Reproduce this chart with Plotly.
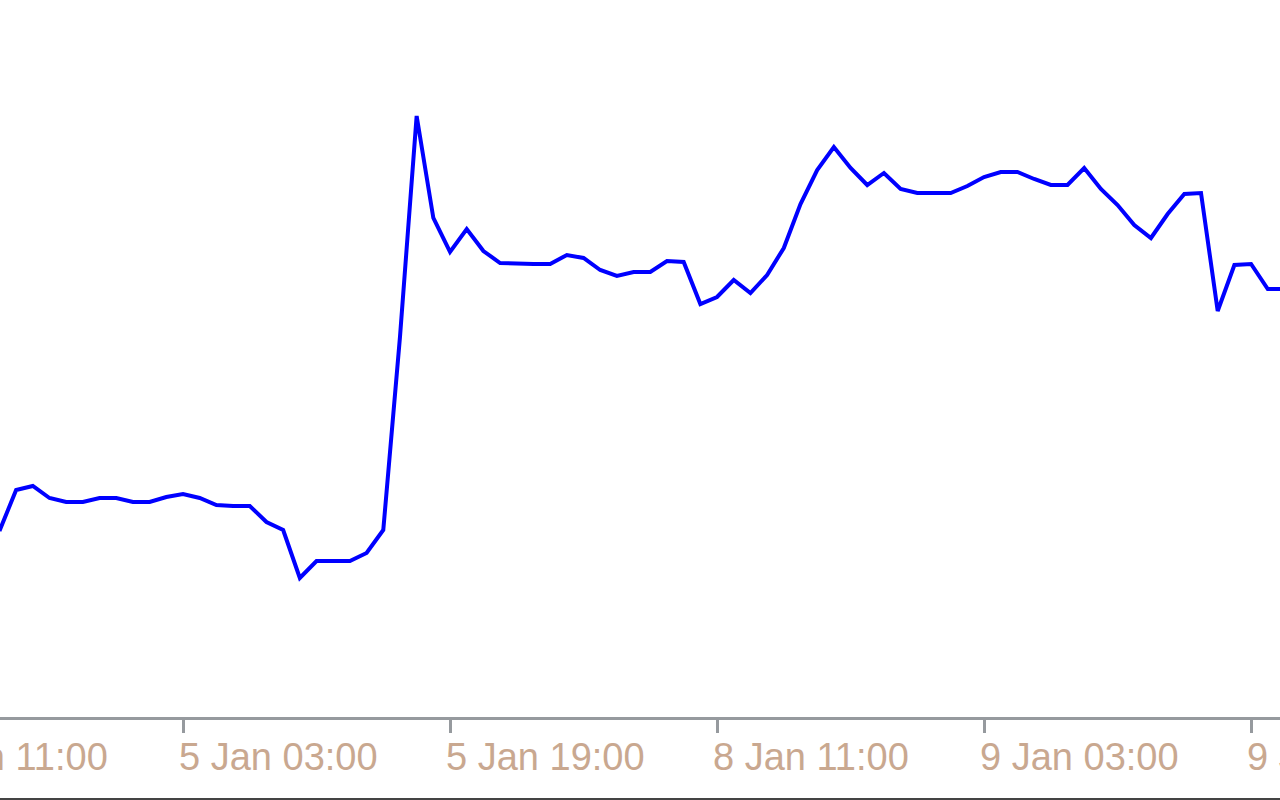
import pandas as pd
import plotly.graph_objects as go

# Hourly timestamps (weekend excluded), 4 Jan 16:00 .. 9 Jan 21:00
all_hours = pd.date_range("2018-01-04 16:00", "2018-01-09 21:00", freq="h")
times = [t for t in all_hours if t.dayofweek < 5]

# Line values (relative units, higher = up)
pixel_rows = [
    531, 490, 486, 498, 502, 502, 498, 498, 502, 502, 497,
    494, 498, 505, 506, 506, 522, 530, 578, 561, 561, 561,
    553, 530, 337, 116, 218, 252, 229, 251, 263, 264,
    264, 264, 255, 258, 270, 276, 272, 272, 261, 262, 304,
    297, 280, 293, 275, 248, 204, 170, 147, 168, 185, 173,
    189, 193, 193, 193, 186, 177, 172, 172, 179, 185, 185,
    168, 189, 205, 225, 238, 214, 194, 193, 311, 265, 264,
    289, 289,
]
values = [717 - p for p in pixel_rows]

tick_times = ["2018-01-04 11:00", "2018-01-05 03:00", "2018-01-05 19:00",
              "2018-01-08 11:00", "2018-01-09 03:00", "2018-01-09 19:00"]
tick_labels = ["4 Jan 11:00", "5 Jan 03:00", "5 Jan 19:00",
               "8 Jan 11:00", "9 Jan 03:00", "9 Jan 19:00"]

x_range = ["2018-01-04 16:02", "2018-01-09 20:44"]

AXIS_GREY = "#969a9e"
TEXT_COL = "#c9a890"
LABEL_Y = -40 / 717


def trading_hours(a, b):
    """Hours between a and b with weekends (Sat/Sun) removed."""
    a, b = pd.Timestamp(a), pd.Timestamp(b)
    sign = 1
    if b < a:
        a, b, sign = b, a, -1
    total = (b - a).total_seconds() / 3600.0
    for day in pd.date_range(a.normalize(), b.normalize(), freq="D"):
        if day.dayofweek >= 5:
            s = max(a, day)
            e = min(b, day + pd.Timedelta(days=1))
            if e > s:
                total -= (e - s).total_seconds() / 3600.0
    return sign * total


span = trading_hours(*x_range)

fig = go.Figure()
fig.add_trace(go.Scatter(
    x=times, y=values, mode="lines",
    line=dict(color="#0000ff", width=4),
    hoverinfo="skip", showlegend=False,
))

fig.update_xaxes(
    type="date",
    range=x_range,
    rangebreaks=[dict(bounds=["sat", "mon"])],
    tickmode="array", tickvals=tick_times[1:], ticktext=tick_labels[1:],
    showticklabels=False,
    ticks="outside", ticklen=13, tickwidth=3, tickcolor=AXIS_GREY,
    showline=True, linewidth=3, linecolor=AXIS_GREY,
    showgrid=False, zeroline=False,
)
fig.update_yaxes(visible=False, range=[0, 717], showgrid=False)

for t, lab in zip(tick_times, tick_labels):
    frac = trading_hours(x_range[0], t) / span
    fig.add_annotation(
        x=frac, xref="x domain", y=LABEL_Y, yref="paper",
        text=lab, showarrow=False, xanchor="left", yanchor="middle",
        xshift=-6,
        font=dict(family="Liberation Sans", size=38, color=TEXT_COL),
    )

fig.add_shape(type="line", xref="paper", yref="paper",
              x0=0, x1=1, y0=-82 / 717, y1=-82 / 717,
              line=dict(color="#444444", width=2))

fig.update_layout(
    width=1280, height=800,
    margin=dict(l=0, r=0, t=0, b=83, autoexpand=False),
    paper_bgcolor="white", plot_bgcolor="white",
)

fig.write_html("out.html",
               config={"displayModeBar": False},
               post_script="document.body.style.margin='0';"
                           "document.body.style.overflow='hidden';")
